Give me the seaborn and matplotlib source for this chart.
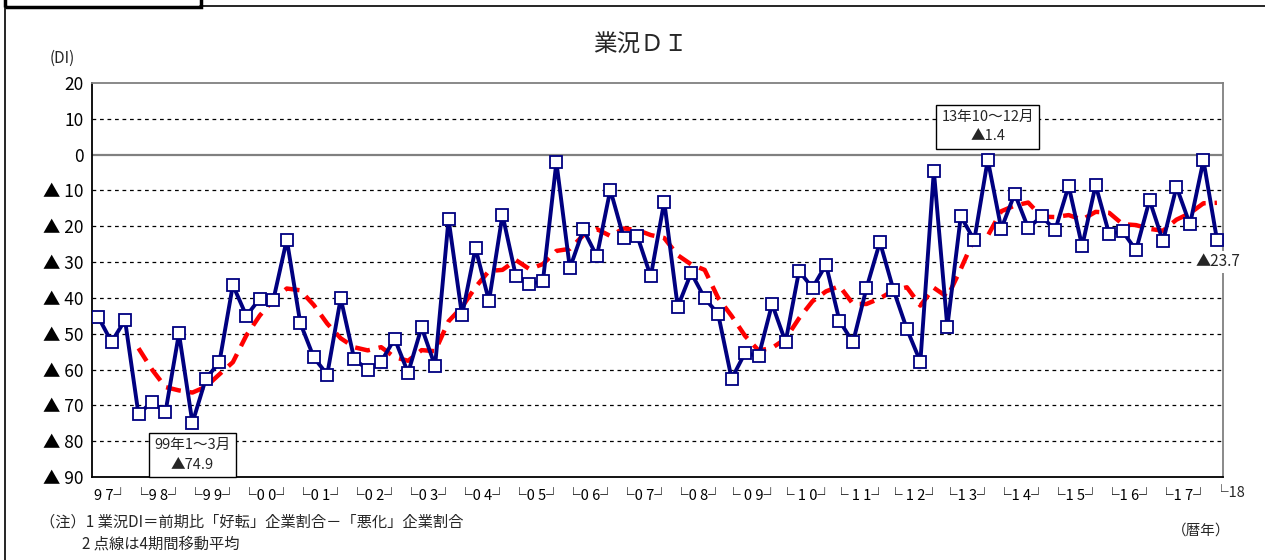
import numpy as np
import pandas as pd
import matplotlib
matplotlib.use("Agg")
import matplotlib.pyplot as plt
import seaborn as sns
from matplotlib.patches import Rectangle
from matplotlib.lines import Line2D

# Quarterly business-conditions DI, 1997 Apr-Jun through 2018 Jan-Mar
periods = [str(p) for p in pd.period_range("1997Q2", periods=84, freq="Q")]
di = [-45.2, -52.3, -46.2, -72.5, -69.0, -71.9, -49.9, -74.9, -62.5, -58.0,
      -36.4, -45.0, -40.2, -40.6, -23.7, -47.0, -56.6, -61.4, -40.1, -57.0,
      -60.1, -57.8, -51.4, -60.9, -48.2, -59.0, -18.0, -44.9, -26.1, -40.9,
      -16.8, -34.0, -36.1, -35.3, -2.1, -31.7, -20.9, -28.4, -9.8, -23.3,
      -22.7, -34.0, -13.1, -42.5, -33.0, -40.1, -44.5, -62.6, -55.3, -56.3,
      -41.7, -52.3, -32.5, -37.2, -30.7, -46.4, -52.4, -37.3, -24.4, -37.7,
      -48.7, -57.8, -4.5, -48.1, -17.2, -23.9, -1.4, -20.7, -10.9, -20.5,
      -17.2, -21.1, -8.7, -25.6, -8.5, -22.1, -21.4, -26.7, -12.7, -24.2,
      -9.0, -19.5, -1.6, -23.7]

year_labels = ["9 7┘", "└9 8┘", "└9 9┘", "└0 0┘", "└0 1┘", "└0 2┘", "└0 3┘",
               "└0 4┘", "└0 5┘", "└0 6┘", "└0 7┘", "└0 8┘", "└ 0 9┘",
               "└ 1 0┘", "└ 1 1┘", "└ 1 2┘", "└1 3┘", "└1 4┘", "└1 5┘",
               "└1 6┘", "└1 7┘"]
last_label = "└18"
y_ticks = list(range(20, -100, -10))

sns.set_theme(style="white")
plt.rcParams["font.family"] = ["Noto Sans CJK JP", "DejaVu Sans"]

df = pd.DataFrame({"period": periods, "di": di})
df["pos"] = np.arange(len(df))
df["ma4"] = df["di"].rolling(4).mean()   # 4-quarter moving average

fig = plt.figure(figsize=(12.65, 5.6), dpi=100)
ax = fig.add_axes([92 / 1265, 1 - 477 / 560, (1223 - 92) / 1265, (477 - 83) / 560])

# horizontal grid: dashed, with a solid zero line
for v in y_ticks[1:-1]:
    if v == 0:
        ax.axhline(0, color="#808080", lw=1.6, zorder=1)
    else:
        ax.axhline(v, color="black", lw=0.9, ls=(0, (3, 3)), zorder=1)

sns.lineplot(data=df, x="pos", y="ma4", ax=ax, color="#FF0000", lw=3.2,
             dashes=False, zorder=2)
ax.lines[-1].set_linestyle((0, (3.4, 2.0)))
sns.lineplot(data=df, x="pos", y="di", ax=ax, color="#000080", lw=2.8,
             marker="s", markersize=8.5, markerfacecolor="white",
             markeredgecolor="#000080", markeredgewidth=1.3, zorder=3)

ax.set_xlim(-0.45, len(df) - 1 + 0.45)
ax.set_ylim(-90, 20)
ax.set_yticks(y_ticks)
ax.set_yticklabels([str(v) if v >= 0 else "▲ %d" % -v for v in y_ticks],
                   fontsize=12.5)
year_pos = [1] + [3 + 4 * i + 1.5 for i in range(20)]
ax.set_xticks(year_pos)
ax.set_xticklabels(year_labels, fontsize=10.5)
ax.tick_params(axis="both", length=0, pad=6, colors="black")
ax.tick_params(axis="x", pad=9)
ax.set_xlabel("")
ax.set_ylabel("")
# the final quarter's year sits just past the last bracket
ax.text(82.75, -90, last_label, transform=ax.transData, ha="left", va="top",
        fontsize=10.5, clip_on=False)
ax.texts[-1].set_y(-92.6)

for side in ("left", "bottom"):
    ax.spines[side].set_color("black")
    ax.spines[side].set_linewidth(1.3)
for side in ("top", "right"):
    ax.spines[side].set_color("#808080")
    ax.spines[side].set_linewidth(1.3)

# call-outs for the trough, the peak and the latest value
ax.text(7, -83.8, "99年1～3月\n▲74.9", ha="center", va="center", fontsize=10.5,
        linespacing=1.5, zorder=5,
        bbox=dict(boxstyle="square,pad=0.35", fc="white", ec="black", lw=1))
ax.text(66, 7.8, "13年10～12月\n▲1.4", ha="center", va="center", fontsize=10.5,
        linespacing=1.5, zorder=5,
        bbox=dict(boxstyle="square,pad=0.35", fc="white", ec="black", lw=1))
ax.text(83.1, -29.9, "▲23.7", ha="center", va="center", fontsize=11,
        zorder=6, clip_on=False,
        bbox=dict(boxstyle="square,pad=0.15", fc="white", ec="none"))

fig.text(640 / 1265, 1 - 45 / 560, "業況ＤＩ", ha="center", va="center", fontsize=17)
fig.text(62 / 1265, 1 - 58 / 560, "(DI)", ha="center", va="center", fontsize=11)
fig.text(40 / 1265, 1 - 522 / 560,
         "（注）1 業況DI＝前期比「好転」企業割合－「悪化」企業割合",
         ha="left", va="center", fontsize=11)
fig.text(82 / 1265, 1 - 544 / 560, "2 点線は4期間移動平均",
         ha="left", va="center", fontsize=11)
fig.text(1230 / 1265, 1 - 531 / 560, "（暦年）", ha="right", va="center",
         fontsize=10.5)

# page frame
fig.add_artist(Line2D([5 / 1265, 5 / 1265], [0, 1 - 6 / 560], color="black",
                      lw=1.2, transform=fig.transFigure))
fig.add_artist(Line2D([200 / 1265, 1], [1 - 6 / 560, 1 - 6 / 560], color="black",
                      lw=1.2, transform=fig.transFigure))
fig.add_artist(Rectangle((5 / 1265, 1 - 7 / 560), 196 / 1265, 12 / 560,
                         fill=False, ec="black", lw=2.5,
                         transform=fig.transFigure))

fig.savefig("out.png", dpi=100)
